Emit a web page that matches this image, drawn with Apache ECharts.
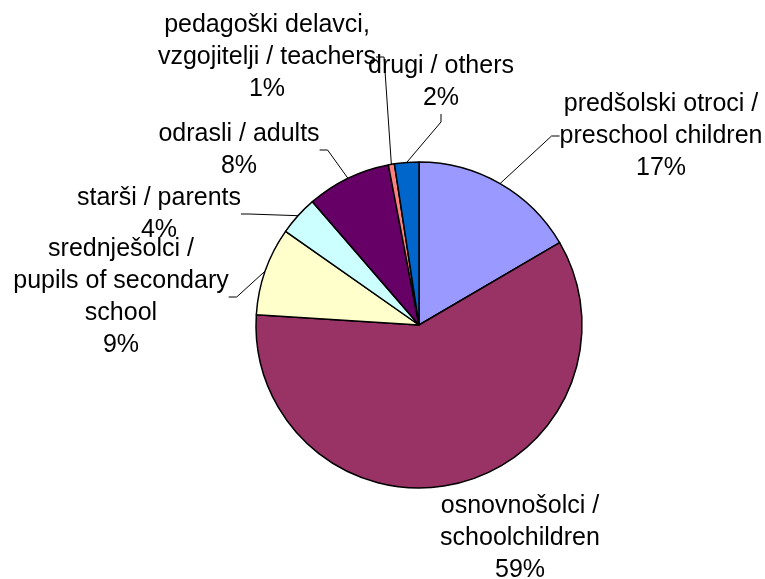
<!DOCTYPE html>
<html>
<head>
<meta charset="utf-8">
<script src="https://cdn.jsdelivr.net/npm/echarts@6/dist/echarts.min.js"></script>
<style>html,body{margin:0;padding:0;background:#fff}#c{width:765px;height:579px}</style>
</head>
<body>
<div id="c"></div>
<script>
// Data (clockwise from 12 o'clock)
var categories = [
  'predšolski otroci /\npreschool children',
  'osnovnošolci /\nschoolchildren',
  'srednješolci /\npupils of secondary\nschool',
  'starši / parents',
  'odrasli / adults',
  'pedagoški delavci,\nvzgojitelji / teachers',
  'drugi / others'
];
var values = [16.5, 59.2, 8.7, 3.9, 8.3, 0.6, 2.4];
var colors = ['#9999FF', '#993366', '#FFFFCC', '#CCFFFF', '#660066', '#FF8080', '#0066CC'];

// label block centres (layout only)
var labelPos = [[661, 136], [520, 538], [121, 297], [159, 214], [239, 150], [267, 57], [441, 82]];

var chart = echarts.init(document.getElementById('c'));
var data = categories.map(function (n, i) {
  var d = { name: n, value: values[i], itemStyle: { color: colors[i] } };
  if (i === 1) d.labelLine = { show: false };
  return d;
});
chart.setOption({
  animation: false,
  series: [{
    type: 'pie',
    center: [419, 325],
    radius: [0, 163],
    startAngle: 90,
    clockwise: true,
    avoidLabelOverlap: false,
    itemStyle: { borderColor: '#000', borderWidth: 1.5 },
    label: {
      show: true,
      position: 'outside',
      color: '#000',
      fontFamily: 'Liberation Sans, Arial, sans-serif',
      fontSize: 25,
      lineHeight: 32,
      align: 'center',
      formatter: function (p) { return p.name + '\n' + Math.round(p.percent) + '%'; }
    },
    labelLine: { show: true, length: 10, length2: 8, lineStyle: { color: '#000', width: 1 } },
    labelLayout: function (p) {
      var pos = labelPos[p.dataIndex];
      return { x: pos[0], y: pos[1], align: 'center', verticalAlign: 'middle' };
    },
    emphasis: { disabled: true },
    data: data
  }]
});
</script>
</body>
</html>
